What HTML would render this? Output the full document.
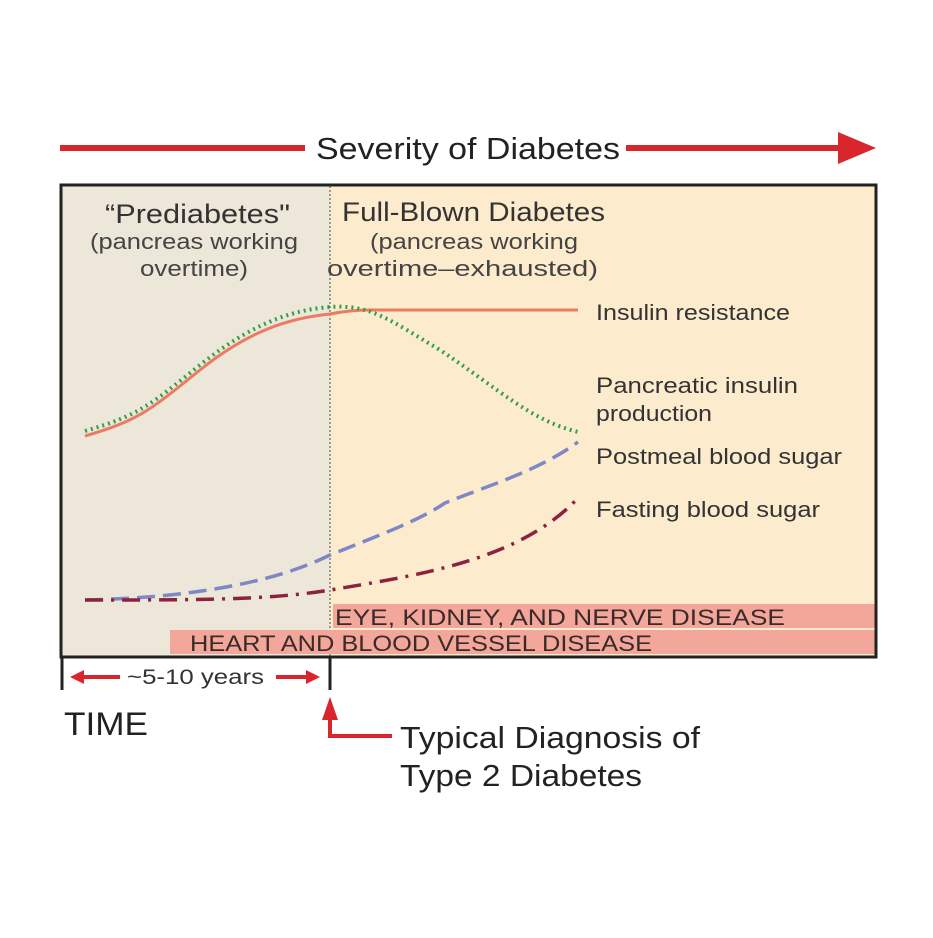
<!DOCTYPE html>
<html><head><style>
html,body{margin:0;padding:0;background:#fff;}
</style></head><body>
<svg width="933" height="933" viewBox="0 0 933 933" xmlns="http://www.w3.org/2000/svg" font-family="Liberation Sans, sans-serif">
<rect width="933" height="933" fill="#fff"/>
<!-- title arrow -->
<line x1="60" y1="148" x2="305" y2="148" stroke="#d9262c" stroke-width="6"/>
<line x1="626" y1="148" x2="845" y2="148" stroke="#d9262c" stroke-width="6"/>
<polygon points="838,132 876,148 838,164" fill="#d9262c"/>
<text x="316" y="159" font-size="31" fill="#222" textLength="304" lengthAdjust="spacingAndGlyphs">Severity of Diabetes</text>
<!-- panels -->
<rect x="62" y="186" width="268" height="470" fill="#ede7d9"/>
<rect x="330" y="186" width="545" height="470" fill="#fdebcd"/>
<line x1="330" y1="186" x2="330" y2="656" stroke="#444" stroke-width="1" stroke-dasharray="2,2"/>
<!-- bands -->
<rect x="333" y="604" width="542" height="24" fill="#f3a79a"/>
<rect x="170" y="630" width="705" height="24" fill="#f3a79a"/>
<text x="335" y="625" font-size="22" fill="#3a2a2a" textLength="450" lengthAdjust="spacingAndGlyphs">EYE, KIDNEY, AND NERVE DISEASE</text>
<text x="190" y="651" font-size="22" fill="#3a2a2a" textLength="462" lengthAdjust="spacingAndGlyphs">HEART AND BLOOD VESSEL DISEASE</text>
<rect x="61" y="185" width="815" height="472" fill="none" stroke="#222" stroke-width="3"/>
<!-- headings -->
<text x="105" y="223" font-size="27" fill="#333" textLength="185" lengthAdjust="spacingAndGlyphs">“Prediabetes"</text>
<text x="90" y="249" font-size="22" fill="#444" textLength="208" lengthAdjust="spacingAndGlyphs">(pancreas working</text>
<text x="140" y="276" font-size="22" fill="#444" textLength="108" lengthAdjust="spacingAndGlyphs">overtime)</text>
<text x="342" y="221" font-size="27" fill="#333" textLength="263" lengthAdjust="spacingAndGlyphs">Full-Blown Diabetes</text>
<text x="370" y="249" font-size="22" fill="#444" textLength="208" lengthAdjust="spacingAndGlyphs">(pancreas working</text>
<text x="327" y="276" font-size="22" fill="#444" textLength="271" lengthAdjust="spacingAndGlyphs">overtime–exhausted)</text>
<!-- curves -->
<path d="M85,436 C140,420 150,410 200,370 C250,330 290,318 330,314 C345,311 355,310 370,310 L578,310" fill="none" stroke="#ec7b63" stroke-width="3"/>
<path d="M85,431 C140,415 150,405 200,365 C250,325 290,310 330,307 C370,304 390,320 440,350 C500,390 530,420 578,432" fill="none" stroke="#2fa04a" stroke-width="4" stroke-dasharray="2,4"/>
<path d="M85,600 C180,598 270,585 330,555 C380,535 420,520 445,503 C490,485 540,470 578,442" fill="none" stroke="#7d88c4" stroke-width="3.5" stroke-dasharray="18,8"/>
<path d="M85,600 C200,600 270,600 330,590 C420,575 520,560 578,498" fill="none" stroke="#8b2340" stroke-width="3.5" stroke-dasharray="18,8,3,8"/>
<!-- labels -->
<g font-size="22" fill="#333">
<text x="596" y="320" textLength="194" lengthAdjust="spacingAndGlyphs">Insulin resistance</text>
<text x="596" y="393" textLength="202" lengthAdjust="spacingAndGlyphs">Pancreatic insulin</text>
<text x="596" y="421" textLength="116" lengthAdjust="spacingAndGlyphs">production</text>
<text x="596" y="464" textLength="246" lengthAdjust="spacingAndGlyphs">Postmeal blood sugar</text>
<text x="596" y="517" textLength="224" lengthAdjust="spacingAndGlyphs">Fasting blood sugar</text>
</g>
<!-- time axis -->
<line x1="62" y1="656" x2="62" y2="690" stroke="#222" stroke-width="3"/>
<line x1="330" y1="656" x2="330" y2="690" stroke="#222" stroke-width="3"/>
<line x1="80" y1="677" x2="120" y2="677" stroke="#d9262c" stroke-width="4"/>
<polygon points="70,677 84,670 84,684" fill="#d9262c"/>
<line x1="276" y1="677" x2="312" y2="677" stroke="#d9262c" stroke-width="4"/>
<polygon points="320,677 306,670 306,684" fill="#d9262c"/>
<text x="127" y="684" font-size="21" fill="#333" textLength="137" lengthAdjust="spacingAndGlyphs">~5-10 years</text>
<text x="64" y="735" font-size="32" fill="#222" textLength="84" lengthAdjust="spacingAndGlyphs">TIME</text>
<polygon points="330,697 322,720 338,720" fill="#d9262c"/>
<polyline points="330,718 330,736 392,736" fill="none" stroke="#d9262c" stroke-width="4"/>
<text x="400" y="748" font-size="31" fill="#222" textLength="300" lengthAdjust="spacingAndGlyphs">Typical Diagnosis of</text>
<text x="400" y="786" font-size="31" fill="#222" textLength="242" lengthAdjust="spacingAndGlyphs">Type 2 Diabetes</text>
</svg>
</body></html>
